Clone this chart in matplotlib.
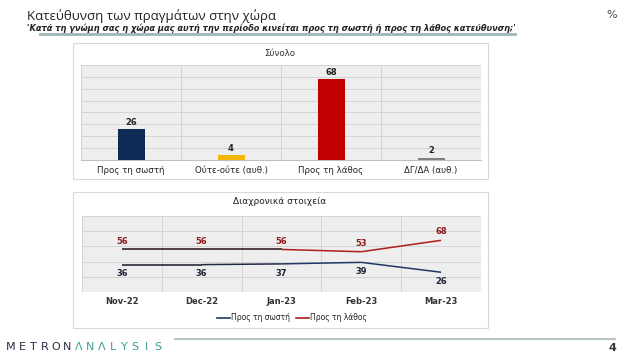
import matplotlib
matplotlib.use("Agg")
import matplotlib.pyplot as plt
from matplotlib.patches import Rectangle
from matplotlib.lines import Line2D
from matplotlib.collections import LineCollection
import numpy as np

# ---- data ----
bar_categories = ["Προς τη σωστή", "Ούτε-ούτε (αυθ.)", "Προς τη λάθος", "ΔΓ/ΔΑ (αυθ.)"]
bar_values = [26, 4, 68, 2]
bar_colors = ["#0F2A55", "#F2B705", "#C00000", "#7F7F7F"]

months = ["Nov-22", "Dec-22", "Jan-23", "Feb-23", "Mar-23"]
right_dir = [36, 36, 37, 39, 26]
wrong_dir = [56, 56, 56, 53, 68]

W, H = 640, 359
fig = plt.figure(figsize=(W / 100, H / 100), dpi=100)
fig.patch.set_facecolor("white")

def box(x0, y0, x1, y1):
    return [x0 / W, 1 - y1 / H, (x1 - x0) / W, (y1 - y0) / H]

def fx(x):
    return x / W

def fy(y):
    return 1 - y / H

# ---- header ----
fig.text(fx(27), fy(16), "Κατεύθυνση των πραγμάτων στην χώρα", fontsize=9.5,
         family="Open Sans", color="#222222", va="center", ha="left")
fig.text(fx(27), fy(28), "'Κατά τη γνώμη σας η χώρα μας αυτή την περίοδο κινείται προς τη σωστή ή προς τη λάθος κατεύθυνση;'",
         fontsize=5.95, style="italic", weight="bold", family="DejaVu Sans", color="#222222",
         va="center", ha="left")
fig.text(fx(612), fy(15), "%", fontsize=8, color="#444444", va="center", ha="center")
fig.add_artist(Line2D([fx(40), fx(515)], [fy(34), fy(34)], color="#9fb5b8", lw=2))

# ---- frames ----
fig.add_artist(Rectangle((fx(73), fy(179)), (488 - 73) / W, (179 - 43) / H,
                         transform=fig.transFigure, fill=False, ec="#d9d9d9", lw=0.8))
fig.add_artist(Rectangle((fx(73), fy(328)), (488 - 73) / W, (328 - 192) / H,
                         transform=fig.transFigure, fill=False, ec="#d9d9d9", lw=0.8))

# ---- bar chart ----
ax1 = fig.add_axes(box(81, 65, 481, 160))
x = np.arange(len(bar_categories))
ax1.bar(x, bar_values, width=0.27, color=bar_colors, zorder=3)
for xi, v in zip(x, bar_values):
    ax1.text(xi, v + 2, str(v), ha="center", va="bottom", fontsize=6, weight="bold", color="#222222")
ax1.set_xlim(-0.5, len(bar_categories) - 0.5)
ax1.set_ylim(0, 80)
ax1.set_facecolor("#eeeeee")
ax1.set_yticks(np.arange(0, 81, 10))
ax1.set_yticklabels([])
ax1.set_xticks(np.arange(-0.5, len(bar_categories), 1), minor=False)
ax1.set_xticklabels([])
ax1.grid(True, color="#d4d4d4", lw=0.7, zorder=0)
ax1.tick_params(length=0)
for s in ax1.spines.values():
    s.set_visible(False)
ax1.spines["bottom"].set_visible(True)
ax1.spines["bottom"].set_color("#bfbfbf")
for xi, c in zip(x, bar_categories):
    ax1.text(xi, -9, c, ha="center", va="center", fontsize=6.2, color="#222222")
fig.text(fx(280), fy(53), "Σύνολο", ha="center", va="center", fontsize=6.2, color="#333333")

# ---- line chart ----
ax2 = fig.add_axes(box(82, 216, 481, 292))
xm = np.arange(len(months))
ax2.set_xlim(-0.5, len(months) - 0.5)
ax2.set_ylim(0, 100)
ax2.set_facecolor("#eeeeee")
ax2.set_yticks(np.arange(0, 101, 20))
ax2.set_yticklabels([])
ax2.set_xticks(np.arange(-0.5, len(months), 1))
ax2.set_xticklabels([])
ax2.grid(True, color="#d4d4d4", lw=0.7, zorder=0)
ax2.tick_params(length=0)
for s in ax2.spines.values():
    s.set_visible(False)

red_pts = np.column_stack([xm, wrong_dir])
blue_pts = np.column_stack([xm, right_dir])
red_segs = [red_pts[i:i + 2] for i in range(len(xm) - 1)]
blue_segs = [blue_pts[i:i + 2] for i in range(len(xm) - 1)]
ax2.add_collection(LineCollection(red_segs, colors=["#2a1010", "#2a1010", "#B01C1C", "#B01C1C"], lw=1.1, zorder=3))
ax2.add_collection(LineCollection(blue_segs, colors=["#151a25", "#1f2a44", "#1F3864", "#1F3864"], lw=1.1, zorder=3))
for xi, v in zip(xm, wrong_dir):
    ax2.text(xi, v + 11, str(v), ha="center", va="center", fontsize=6, weight="bold", color="#8B1A1A")
for xi, v in zip(xm, right_dir):
    ax2.text(xi, v - 12, str(v), ha="center", va="center", fontsize=6, weight="bold", color="#1a2233")
for xi, m in zip(xm, months):
    ax2.text(xi, -13, m, ha="center", va="center", fontsize=6, weight="bold", color="#333333")
fig.text(fx(280), fy(201), "Διαχρονικά στοιχεία", ha="center", va="center", fontsize=6.5, color="#222222")

# legend
fig.add_artist(Line2D([fx(217), fx(230)], [fy(318), fy(318)], color="#1F3864", lw=1.2))
fig.text(fx(231), fy(318), "Προς τη σωστή", ha="left", va="center", fontsize=5.5, color="#222222")
fig.add_artist(Line2D([fx(296), fx(309)], [fy(318), fy(318)], color="#B01C1C", lw=1.2))
fig.text(fx(310), fy(318), "Προς τη λάθος", ha="left", va="center", fontsize=5.5, color="#222222")

# ---- footer ----
logo = "METRONΛNΛLYSIS"
for i, ch in enumerate(logo):
    col = "#2b2f45" if i < 6 else "#3c9c9a"
    fig.text(fx(11 + i * 11.3), fy(347), ch, ha="center", va="center", fontsize=8,
             color=col, family="DejaVu Sans")
fig.add_artist(Line2D([fx(175), fx(615)], [fy(339), fy(339)], color="#b8c6c8", lw=1.5))
fig.text(fx(612), fy(348), "4", ha="center", va="center", fontsize=8, weight="bold", color="#333333")

fig.savefig("out.png", dpi=100)
